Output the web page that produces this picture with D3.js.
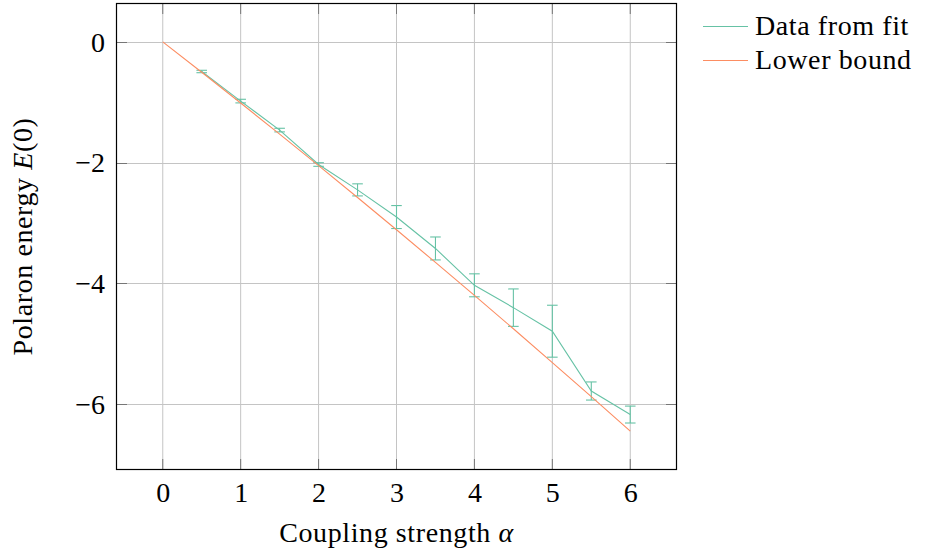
<!DOCTYPE html>
<html><head><meta charset="utf-8">
<script src="https://cdn.jsdelivr.net/npm/d3@7"></script>
<style>
html,body{margin:0;padding:0;background:#fff;}
svg text{font-family:"Liberation Serif","DejaVu Serif",serif;fill:#000;}
</style></head>
<body>
<svg id="chart" width="928" height="555"></svg>
<script>
// ---- data ----
const alphaFit = [0.5, 1, 1.5, 2, 2.5, 3, 3.5, 4, 4.5, 5, 5.5, 6];
const energyFit = [-0.49, -0.98, -1.46, -2.03, -2.45, -2.90, -3.42, -4.03, -4.40, -4.79, -5.78, -6.17];
const energyErr = [0.02, 0.03, 0.03, 0.03, 0.10, 0.19, 0.19, 0.19, 0.31, 0.43, 0.15, 0.14];
const alphaBound = [0, 0.5, 1, 1.5, 2, 2.5, 3, 3.5, 4, 4.5, 5, 5.5, 6];
const energyBound = [0, -0.503, -1.012, -1.528, -2.049, -2.577, -3.111, -3.651, -4.198, -4.750, -5.309, -5.873, -6.444];
const xTicks = [0, 1, 2, 3, 4, 5, 6];
const yTicks = [0, -2, -4, -6];
const legendLabels = ["Data from fit", "Lower bound"];
const colors = ["#66c2a5", "#fc8d62"];

const FS = 28, LS = "0.6px";
const svg = d3.select("#chart");
const L = 116, R = 677, T = 3, B = 470;
const x = d3.scaleLinear().domain([-0.6, 6.6]).range([L, R]);
const y = d3.scaleLinear().domain([-7.088, 0.644]).range([B, T]);

// grid
const g = svg.append("g");
g.selectAll(".vg").data(xTicks).join("line")
  .attr("x1", d => x(d)).attr("x2", d => x(d)).attr("y1", T).attr("y2", B)
  .attr("stroke", "#c4c4c4").attr("stroke-width", 1);
g.selectAll(".hg").data(yTicks).join("line")
  .attr("y1", d => Math.round(y(d)) + 0.5).attr("y2", d => Math.round(y(d)) + 0.5).attr("x1", L).attr("x2", R)
  .attr("stroke", "#c4c4c4").attr("stroke-width", 1);

// ticks (inside, all four sides)
const tl = 11;
const tk = svg.append("g").attr("stroke", "#777").attr("stroke-width", 1);
xTicks.forEach(d => {
  tk.append("line").attr("x1", x(d)).attr("x2", x(d)).attr("y1", B).attr("y2", B - tl);
  tk.append("line").attr("x1", x(d)).attr("x2", x(d)).attr("y1", T).attr("y2", T + tl);
});
yTicks.forEach(d => {
  const yy = Math.round(y(d)) + 0.5;
  tk.append("line").attr("x1", L).attr("x2", L + tl).attr("y1", yy).attr("y2", yy);
  tk.append("line").attr("x1", R).attr("x2", R - tl).attr("y1", yy).attr("y2", yy);
});

// tick labels via axis generators
const xAxis = d3.axisBottom(x).tickValues(xTicks).tickSize(0).tickPadding(0).tickFormat(d3.format("d"));
const xa = svg.append("g").attr("transform", `translate(0,${B})`).call(xAxis);
xa.select(".domain").remove();
xa.selectAll("text").attr("font-size", FS).attr("y", 32).attr("dy", 0)
  .style("font-family", '"Liberation Serif", serif');

const yAxis = d3.axisLeft(y).tickValues(yTicks).tickSize(0).tickPadding(0)
  .tickFormat(d => d < 0 ? "\u2212" + Math.abs(d) : String(d));
const ya = svg.append("g").attr("transform", `translate(${L - 11},0)`).call(yAxis);
ya.select(".domain").remove();
ya.selectAll("text").attr("font-size", FS).attr("dy", "0.33em")
  .style("font-family", '"Liberation Serif", serif');

// lines
const line = d3.line().x(d => x(d[0])).y(d => y(d[1]));
const fitPts = alphaFit.map((a, i) => [a, energyFit[i]]);
const boundPts = alphaBound.map((a, i) => [a, energyBound[i]]);

svg.append("path").datum(fitPts).attr("d", line)
  .attr("fill", "none").attr("stroke", colors[0]).attr("stroke-width", 1.1);

// error bars
const eb = svg.append("g").attr("stroke", colors[0]).attr("stroke-width", 1.1);
fitPts.forEach((p, i) => {
  const cx = x(p[0]), y1 = y(p[1] + energyErr[i]), y2 = y(p[1] - energyErr[i]);
  eb.append("line").attr("x1", cx).attr("x2", cx).attr("y1", y1).attr("y2", y2);
  eb.append("line").attr("x1", cx - 5.3).attr("x2", cx + 5.3).attr("y1", y1).attr("y2", y1);
  eb.append("line").attr("x1", cx - 5.3).attr("x2", cx + 5.3).attr("y1", y2).attr("y2", y2);
});

svg.append("path").datum(boundPts).attr("d", line)
  .attr("fill", "none").attr("stroke", colors[1]).attr("stroke-width", 1.1);

// frame
svg.append("rect").attr("x", L + 0.5).attr("y", T + 0.5).attr("width", R - L - 1).attr("height", B - T - 1)
  .attr("fill", "none").attr("stroke", "#000").attr("stroke-width", 1.2);

// axis labels
svg.append("text").attr("x", (L + R) / 2).attr("y", 542).attr("text-anchor", "middle")
  .attr("font-size", FS).attr("letter-spacing", LS)
  .html('Coupling strength <tspan font-style="italic">α</tspan>');
svg.append("text").attr("transform", `translate(32,${(T + B) / 2}) rotate(-90)`).attr("text-anchor", "middle")
  .attr("font-size", FS).attr("letter-spacing", LS)
  .html('Polaron energy <tspan font-style="italic">E</tspan>(0)');

// legend
const lg = svg.append("g");
legendLabels.forEach((lab, i) => {
  const base = 35 + i * 34;
  lg.append("line").attr("x1", 703).attr("x2", 748).attr("y1", base - 8.5).attr("y2", base - 8.5)
    .attr("stroke", colors[i]).attr("stroke-width", 1.1);
  lg.append("text").attr("x", 755).attr("y", base).attr("font-size", FS).attr("letter-spacing", LS).text(lab);
});
</script>
</body></html>
